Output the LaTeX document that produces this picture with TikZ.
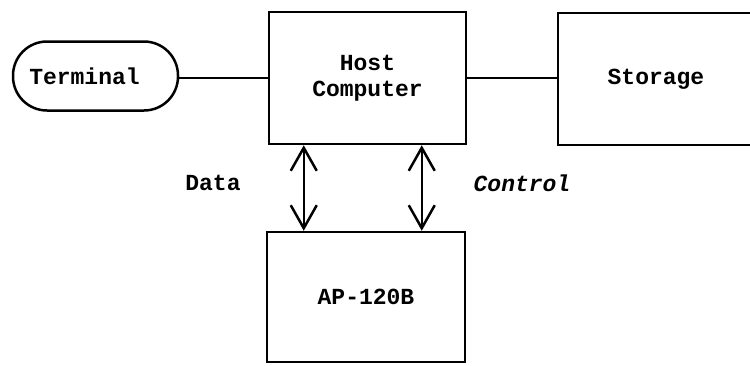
\documentclass[tikz,border=0pt]{standalone}
\usepackage{fontspec}
\setmonofont{Liberation Mono}
\usetikzlibrary{arrows.meta}
\begin{document}
\begin{tikzpicture}[x=1pt,y=-1pt,
  every node/.style={font=\ttfamily\bfseries\fontsize{23}{26}\selectfont},
  blk/.style={draw, line width=2.5pt, inner sep=0pt, align=center},
  link/.style={line width=2.5pt},
  biarrow/.style={line width=2.5pt, {Straight Barb[length=23pt,width=26pt,line width=2.5pt]}-{Straight Barb[length=23pt,width=26pt,line width=2.5pt]}},
  lbl/.style={inner sep=0pt}
]
\useasboundingbox (0,0) rectangle (750,365);
\node[blk, rounded corners=34pt, minimum width=165pt, minimum height=69pt] (term) at (95.5,76) {Terminal\hspace*{22pt}};
\node[blk, minimum width=197pt, minimum height=132pt] (host) at (367.5,78) {Host\\Computer};
\node[blk, minimum width=196pt, minimum height=132pt] (stor) at (656,79) {Storage};
\node[blk, minimum width=198pt, minimum height=130pt] (ap) at (366,297) {AP-120B};
\draw[link] (host.west) -- (host.west -| term.east);
\draw[link] (host.east) -- (stor.west |- host.east);
\draw[biarrow] ([xshift=36pt]host.south west) -- ([xshift=36pt]host.south west |- ap.north);
\draw[biarrow] ([xshift=154pt]host.south west) -- ([xshift=154pt]host.south west |- ap.north);
\node[lbl] (data) at (213,183) {Data};
\node[lbl] (ctrl) at (522,183) {\itshape Control};
\end{tikzpicture}
\end{document}
